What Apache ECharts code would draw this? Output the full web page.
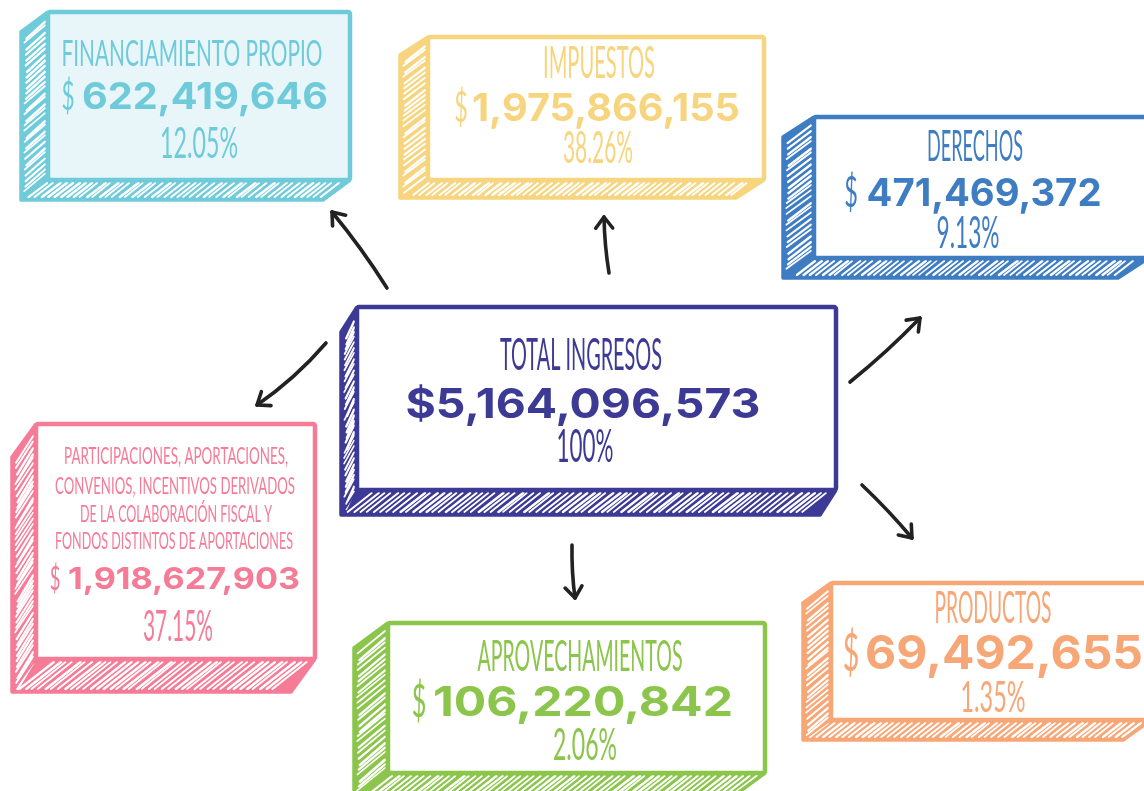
<!DOCTYPE html>
<html>
<head>
<meta charset="UTF-8">
<title>Total Ingresos</title>
<script src="https://cdn.jsdelivr.net/npm/echarts@6/dist/echarts.min.js"></script>
<style>
  html, body { margin: 0; padding: 0; background: #fff; }
  #main { width: 1144px; height: 791px; }
</style>
</head>
<body>
<div id="main"></div>
<script>
// datos
var names = [
  'Financiamiento Propio',
  'Impuestos',
  'Derechos',
  'Total Ingresos',
  'Participaciones, Aportaciones,\nConvenios, Incentivos derivados\nde la Colaboración Fiscal y\nFondos Distintos de Aportaciones',
  'Aprovechamientos',
  'Productos'
];
var amounts = [622419646, 1975866155, 471469372, 5164096573, 1918627903, 106220842, 69492655];
var shares = [12.05, 38.26, 9.13, 100, 37.15, 2.06, 1.35];
var colors = ['#6fcbda', '#f7d57f', '#3f7dc3', '#3d3a95', '#f57b96', '#8bc54b', '#f7a676'];
var fills = ['#e8f6fa', '#ffffff', '#ffffff', '#ffffff', '#ffffff', '#ffffff', '#ffffff'];

// layout: caja frontal x, y, ancho, alto, desplazamiento del volumen dx, dy
var boxes = [
  [48, 12, 302, 168, -27, 20],
  [428, 37, 336, 143, -28, 18],
  [814, 117, 335, 141, -31, 20],
  [357, 307, 479, 183, -16, 25],
  [36, 424, 279, 235, -24, 33],
  [388, 623, 377, 150, -34, 25],
  [831, 583, 320, 137, -28, 20]
];
// titulo por renglon: cx, cy, alto, ancho
var titlePos = [
  [[192, 54, 27, 261]],
  [[599, 64, 32, 112]],
  [[975, 148, 30, 96]],
  [[581, 356, 32, 162]],
  [[176, 456, 17, 224], [175, 486, 17, 240], [176, 514, 17, 192], [174, 541, 17, 238]],
  [[580, 657, 31, 205]],
  [[993, 609, 32, 117]]
];
// importe: cx, cy, alto, ancho, x del signo $
var amountPos = [
  [205, 98, 27, 246, 68],
  [606, 109, 28, 268, 461],
  [984, 194, 28, 235, 851],
  [583, 405, 30, 355, null],
  [184, 580, 22, 232, 55],
  [583, 703, 30, 300, 419],
  [1004, 655, 34, 278, 851]
];
// porcentaje: cx, cy, alto, ancho
var sharePos = [
  [199, 145, 30, 78],
  [598, 149, 32, 70],
  [968, 234, 32, 63],
  [585, 447, 33, 57],
  [178, 628, 30, 70],
  [585, 746, 32, 64],
  [993, 698, 31, 65]
];
// flechas: x1, y1, x2 (punta), y2, curvatura
var arrows = [
  [387, 288, 332, 212, 3],
  [609, 273, 604, 217, -2],
  [850, 382, 920, 318, 3],
  [326, 343, 257, 405, -6],
  [572, 545, 575, 598, 2],
  [862, 485, 912, 538, -2]
];

var THIN = 'Lato', THIN_W = 400;
var BOLD = 'Inter', BOLD_W = 700;

var measureCtx = document.createElement('canvas').getContext('2d');
function measure(str, size, family, weight) {
  measureCtx.font = weight + ' ' + size + 'px "' + family + '"';
  return measureCtx.measureText(str).width;
}

// texto ajustado a un alto de mayuscula y un ancho
function fitText(str, p, capH, w, family, weight, color) {
  var size = capH / 0.72;
  var sx = w ? w / measure(str, size, family, weight) : 1;
  return {
    type: 'text',
    x: p[0], y: p[1],
    scaleX: sx,
    style: {
      text: str, x: 0, y: 0,
      fontSize: size, fontFamily: family, fontWeight: weight,
      fill: color, align: 'center', verticalAlign: 'middle'
    }
  };
}

function wob(k) {
  var s = Math.sin(k * 127.1 + 311.7) * 43758.5453;
  return s - Math.floor(s);
}

function renderBox(params, api) {
  var i = params.dataIndex;
  var b = boxes[i];
  var c = colors[i];
  var P = function (x, y) { return api.coord([x, y]); };
  var fx = b[0], fy = b[1], fw = b[2], fh = b[3], dx = b[4], dy = b[5];
  var kids = [];

  // caras laterales
  kids.push({ type: 'polygon', shape: { points: [P(fx, fy), P(fx + dx, fy + dy), P(fx + dx, fy + fh + dy), P(fx, fy + fh)] },
    style: { fill: c } });
  kids.push({ type: 'polygon', shape: { points: [P(fx, fy + fh), P(fx + dx, fy + fh + dy), P(fx + fw + dx, fy + fh + dy), P(fx + fw, fy + fh)] },
    style: { fill: c } });

  // rayado blanco
  var k, y0, x0, r;
  var adx = -dx;
  for (k = 0, y0 = fy + dy + 5; y0 < fy + fh + dy - 4; k++, y0 += 5.5) {
    r = wob(i * 100 + k);
    var a = P(fx + dx + 3 + r * 3, y0 + r * 2);
    var e = P(fx - 3, y0 - dy * (adx - 6) / adx - 2 + r * 3);
    kids.push({ type: 'line', shape: { x1: a[0], y1: a[1], x2: e[0], y2: e[1] },
      style: { stroke: '#fff', lineWidth: 1.6 + r, lineCap: 'round' } });
  }
  var slope = 1.25;
  for (k = 0, x0 = fx + dx - 20; x0 < fx + fw + dx; k++, x0 += 6.5) {
    r = wob(i * 300 + k);
    var yb = fy + fh + dy - 3, yt = fy + fh + 3;
    var xb = x0 + r * 2, xt = x0 + (yb - yt) * slope + r * 3;
    var lb = fx + dx * (yb - fy - fh) / dy, lt = fx + dx * (yt - fy - fh) / dy;
    if (xb < lb + 1 || xt < lt + 1 || xb > lb + fw - 2 || xt > lt + fw - 2) continue;
    var pb = P(xb, yb), pt = P(xt, yt);
    kids.push({ type: 'line', shape: { x1: pb[0], y1: pb[1], x2: pt[0], y2: pt[1] },
      style: { stroke: '#fff', lineWidth: 1.6 + r, lineCap: 'round' } });
  }

  // contorno del volumen
  kids.push({ type: 'polyline', shape: { points: [P(fx, fy), P(fx + dx, fy + dy), P(fx + dx, fy + fh + dy), P(fx + fw + dx, fy + fh + dy), P(fx + fw, fy + fh)] },
    style: { stroke: c, lineWidth: 3.5, fill: null, lineJoin: 'round' } });
  var c1 = P(fx, fy + fh), c2 = P(fx + dx, fy + fh + dy);
  kids.push({ type: 'line', shape: { x1: c1[0], y1: c1[1], x2: c2[0], y2: c2[1] },
    style: { stroke: c, lineWidth: 2 } });

  // cara frontal
  var tl = P(fx, fy), br = P(fx + fw, fy + fh);
  kids.push({ type: 'rect', shape: { x: tl[0], y: tl[1], width: br[0] - tl[0], height: br[1] - tl[1], r: 2 },
    style: { fill: fills[i], stroke: c, lineWidth: 4.5 } });

  // textos
  var lines = names[i].split('\n');
  lines.forEach(function (ln, j) {
    var t = titlePos[i][j];
    kids.push(fitText(ln.toUpperCase(), P(t[0], t[1]), t[2], t[3], THIN, THIN_W, c));
  });
  var ap = amountPos[i];
  var amt = amounts[i].toLocaleString('en-US');
  if (ap[4] === null) amt = '$' + amt;
  kids.push(fitText(amt, P(ap[0], ap[1]), ap[2], ap[3], BOLD, BOLD_W, c));
  if (ap[4] !== null) {
    var dt = fitText('$', P(ap[4], ap[1] - 1), ap[2] * 1.1, null, THIN, THIN_W, c);
    dt.scaleX = 0.55;
    kids.push(dt);
  }
  var sp = sharePos[i];
  var sv = shares[i] === 100 ? '100%' : shares[i].toFixed(2) + '%';
  kids.push(fitText(sv, P(sp[0], sp[1]), sp[2], sp[3], THIN, THIN_W, c));

  return { type: 'group', children: kids };
}

function renderArrow(params, api) {
  var a = arrows[params.dataIndex];
  var p1 = api.coord([a[0], a[1]]), p2 = api.coord([a[2], a[3]]);
  var mx = (p1[0] + p2[0]) / 2, my = (p1[1] + p2[1]) / 2;
  var vx = p2[0] - p1[0], vy = p2[1] - p1[1];
  var len = Math.sqrt(vx * vx + vy * vy);
  var cx = mx - vy / len * a[4], cy = my + vx / len * a[4];
  var ux = p2[0] - cx, uy = p2[1] - cy;
  var ul = Math.sqrt(ux * ux + uy * uy);
  ux /= ul; uy /= ul;
  function arm(ang) {
    var cs = Math.cos(ang), sn = Math.sin(ang);
    return [p2[0] - (ux * cs - uy * sn) * 14, p2[1] - (ux * sn + uy * cs) * 14];
  }
  return {
    type: 'group',
    children: [
      { type: 'bezierCurve', shape: { x1: p1[0], y1: p1[1], x2: p2[0], y2: p2[1], cpx1: cx, cpy1: cy },
        style: { stroke: '#222', lineWidth: 3.6, fill: null, lineCap: 'round' } },
      { type: 'polyline', shape: { points: [arm(0.65), p2, arm(-0.65)] },
        style: { stroke: '#222', lineWidth: 3.6, fill: null, lineCap: 'round', lineJoin: 'round' } }
    ]
  };
}

var myChart = echarts.init(document.getElementById('main'));

var option = {
  backgroundColor: '#ffffff',
  animation: false,
  grid: { left: 0, right: 0, top: 0, bottom: 0 },
  xAxis: { type: 'value', min: 0, max: 1144, show: false },
  yAxis: { type: 'value', min: 0, max: 791, inverse: true, show: false },
  series: [{
    type: 'custom',
    renderItem: renderArrow,
    data: arrows.map(function (a) { return [a[0], a[1], a[2], a[3]]; })
  }, {
    type: 'custom',
    renderItem: renderBox,
    data: amounts.map(function (v, i) { return [boxes[i][0], boxes[i][1], v, shares[i]]; })
  }]
};

myChart.setOption(option);
</script>
</body>
</html>
